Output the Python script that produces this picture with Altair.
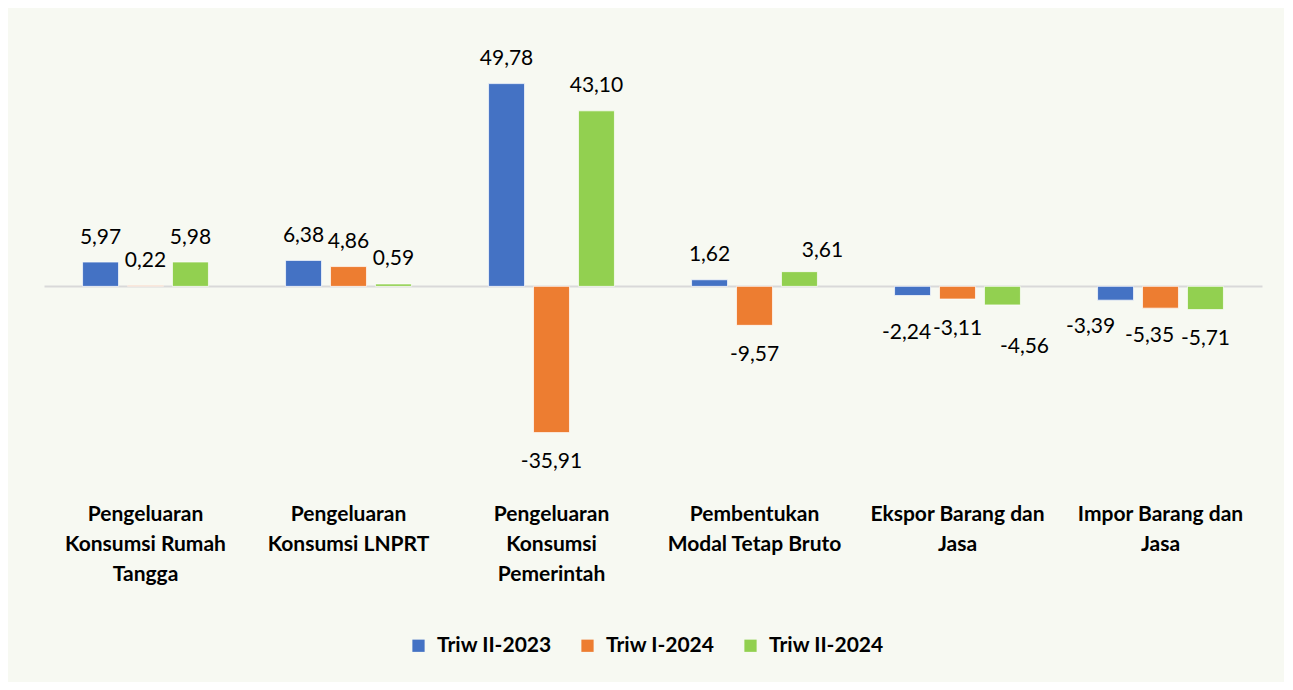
import altair as alt
import pandas as pd

categories = [
    "Pengeluaran|Konsumsi Rumah|Tangga",
    "Pengeluaran|Konsumsi LNPRT",
    "Pengeluaran|Konsumsi|Pemerintah",
    "Pembentukan|Modal Tetap Bruto",
    "Ekspor Barang dan|Jasa",
    "Impor Barang dan|Jasa",
]
series = ["Triw II-2023", "Triw I-2024", "Triw II-2024"]
v_q2_2023 = [5.97, 6.38, 49.78, 1.62, -2.24, -3.39]
v_q1_2024 = [0.22, 4.86, -35.91, -9.57, -3.11, -5.35]
v_q2_2024 = [5.98, 0.59, 43.10, 3.61, -4.56, -5.71]
colors = ["#4472c4", "#ed7d31", "#92d050"]

rows = []
for s, vals in zip(series, [v_q2_2023, v_q1_2024, v_q2_2024]):
    for c, v in zip(categories, vals):
        rows.append({"cat": c, "series": s, "value": v,
                     "label": f"{v:.2f}".replace(".", ",")})
df = pd.DataFrame(rows)

# labels that were moved by hand in the original (pixel nudges)
nudged = {"3,61": (23, -15), "-2,24": (-6, 44), "-4,56": (22, 48),
          "-3,39": (-25, 33), "-5,35": (-11, 34)}

FONT = "Lato"

x = alt.X("cat:N", sort=categories,
          scale=alt.Scale(paddingInner=0.38, paddingOuter=0.19),
          axis=alt.Axis(title=None, labelExpr="split(datum.label, '|')",
                        labelAngle=0, domain=False, ticks=False, tickSize=0,
                        labelPadding=13, labelFont=FONT, labelFontSize=21,
                        labelFontWeight="bold", labelColor="black",
                        labelLineHeight=30, labelLimit=0, grid=False,
                        labelBaseline="top"))
xo = alt.XOffset("series:N", sort=series,
                 scale=alt.Scale(paddingInner=0.2, paddingOuter=0))
y_axis = alt.Y("value:Q",
               scale=alt.Scale(domain=[-50, 60], nice=False, zero=True),
               axis=alt.Axis(values=[0], grid=True, gridColor="#d9d9d9",
                             gridWidth=2, labels=False, ticks=False,
                             domain=False, title=None))
y = alt.Y("value:Q")

base = alt.Chart(df)

bars = base.mark_bar(stroke="white", strokeWidth=1, strokeOpacity=0.7).encode(
    x=x, xOffset=xo, y=y_axis,
    color=alt.Color("series:N", scale=alt.Scale(domain=series, range=colors),
                    legend=alt.Legend(title=None, orient="none",
                                      legendX=364, legendY=593,
                                      direction="horizontal",
                                      symbolType="square", symbolSize=150,
                                      symbolStrokeWidth=0,
                                      labelFont=FONT, labelFontSize=21,
                                      labelFontWeight="bold",
                                      labelColor="black", columnPadding=25,
                                      labelOffset=8)),
)

is_special = " || ".join(f"datum.label == '{k}'" for k in nudged)

pos_text = base.mark_text(font=FONT, fontSize=21, baseline="alphabetic",
                          dy=-18.5, color="black").encode(
    x=x, xOffset=xo, y=y, text="label:N").transform_filter(
    f"datum.value >= 0 && !({is_special})")
neg_text = base.mark_text(font=FONT, fontSize=21, baseline="alphabetic",
                          dy=35.5, color="black").encode(
    x=x, xOffset=xo, y=y, text="label:N").transform_filter(
    f"datum.value < 0 && !({is_special})")

layers = [bars, pos_text, neg_text]
for lab, (ddx, ddy) in nudged.items():
    layers.append(
        base.mark_text(font=FONT, fontSize=21, baseline="alphabetic",
                       dx=ddx, dy=ddy, color="black").encode(
            x=x, xOffset=xo, y=y, text="label:N").transform_filter(
            f"datum.label == '{lab}'"))

chart = alt.layer(*layers).properties(
    width=1218, height=448,
    autosize=alt.AutoSizeParams(type="none"),
    padding={"left": 36, "top": 34, "right": 22, "bottom": 192},
    background="#f7f9f2",
).configure_view(stroke=None)

chart.save("out.html", embed_options={"renderer": "svg", "actions": False})
